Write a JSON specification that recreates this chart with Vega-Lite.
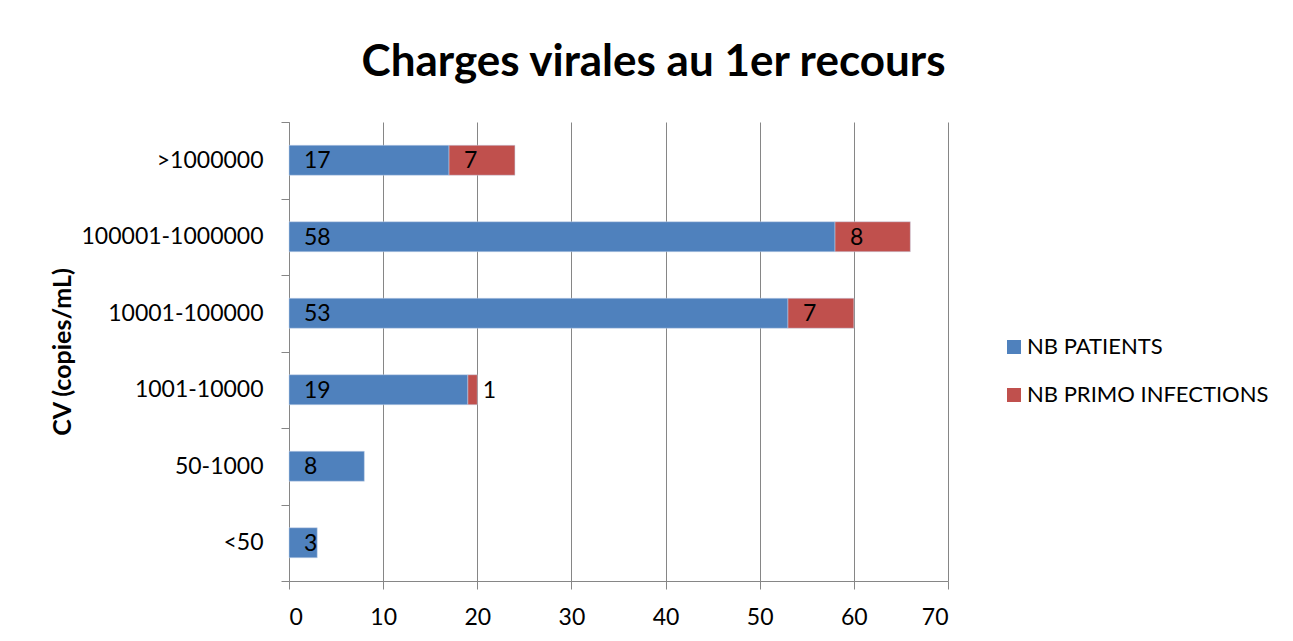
{
  "$schema": "https://vega.github.io/schema/vega-lite/v6.json",
  "width": 659,
  "height": 459,
  "autosize": {"type": "none"},
  "padding": {"left": 289, "top": 122, "right": 345, "bottom": 60},
  "background": "white",
  "title": {"text": "Charges virales au 1er recours", "font": "Lato", "fontSize": 44, "fontWeight": "bold", "color": "#000000", "anchor": "middle", "dx": 35, "offset": 26},
  "data": {"values": [
    {"cv": ">1000000", "series": "NB PATIENTS", "value": 17},
    {"cv": ">1000000", "series": "NB PRIMO INFECTIONS", "value": 7},
    {"cv": "100001-1000000", "series": "NB PATIENTS", "value": 58},
    {"cv": "100001-1000000", "series": "NB PRIMO INFECTIONS", "value": 8},
    {"cv": "10001-100000", "series": "NB PATIENTS", "value": 53},
    {"cv": "10001-100000", "series": "NB PRIMO INFECTIONS", "value": 7},
    {"cv": "1001-10000", "series": "NB PATIENTS", "value": 19},
    {"cv": "1001-10000", "series": "NB PRIMO INFECTIONS", "value": 1},
    {"cv": "50-1000", "series": "NB PATIENTS", "value": 8},
    {"cv": "<50", "series": "NB PATIENTS", "value": 3}
  ]},
  "transform": [
    {"stack": "value", "groupby": ["cv"], "sort": [{"field": "series", "order": "ascending"}], "as": ["v0", "v1"]}
  ],
  "encoding": {
    "y": {
      "field": "cv", "type": "nominal",
      "sort": [">1000000", "100001-1000000", "10001-100000", "1001-10000", "50-1000", "<50"],
      "scale": {"paddingInner": 0, "paddingOuter": 0},
      "axis": {
        "title": "CV (copies/mL)", "titleFont": "Lato", "titleFontSize": 25, "titleFontWeight": "bold", "titleColor": "#000000",
        "titleX": -227, "titleY": 229.5, "titleAngle": -90, "titleAlign": "center", "titleBaseline": "middle",
        "labelFont": "Lato", "labelFontSize": 23, "labelColor": "#000000", "labelPadding": 18, "labelLimit": 400,
        "tickBand": "extent", "tickSize": 8, "tickColor": "#868686", "domainColor": "#868686", "grid": false
      }
    }
  },
  "layer": [
    {
      "mark": {"type": "bar", "height": {"band": 0.392}, "stroke": "#c6d5ea", "strokeWidth": 0.5},
      "encoding": {
        "x": {
          "field": "v0", "type": "quantitative",
          "scale": {"domain": [0, 70], "nice": false},
          "axis": {
            "title": null, "values": [0, 10, 20, 30, 40, 50, 60, 70],
            "labelFont": "Lato", "labelFontSize": 23, "labelColor": "#000000", "labelPadding": 17,
            "tickSize": 8, "tickColor": "#868686", "domainColor": "#868686",
            "grid": true, "gridColor": "#868686", "gridWidth": 1
          }
        },
        "x2": {"field": "v1"},
        "color": {
          "field": "series", "type": "nominal",
          "scale": {"domain": ["NB PATIENTS", "NB PRIMO INFECTIONS"], "range": ["#4f81bd", "#c0504d"]},
          "legend": {
            "title": null, "orient": "none", "legendX": 714, "legendY": 214,
            "symbolType": "square", "symbolSize": 196, "symbolStrokeWidth": 0,
            "labelFont": "Lato", "labelFontSize": 22, "labelColor": "#000000", "labelOffset": 2, "labelLimit": 400,
            "rowPadding": 26
          }
        }
      }
    },
    {
      "mark": {"type": "text", "align": "left", "baseline": "middle", "dx": 15, "dy": 1, "font": "Lato", "fontSize": 23, "color": "#000000"},
      "encoding": {
        "x": {"field": "v0", "type": "quantitative"},
        "text": {"field": "value", "type": "quantitative"}
      }
    }
  ],
  "config": {"view": {"stroke": null}}
}
